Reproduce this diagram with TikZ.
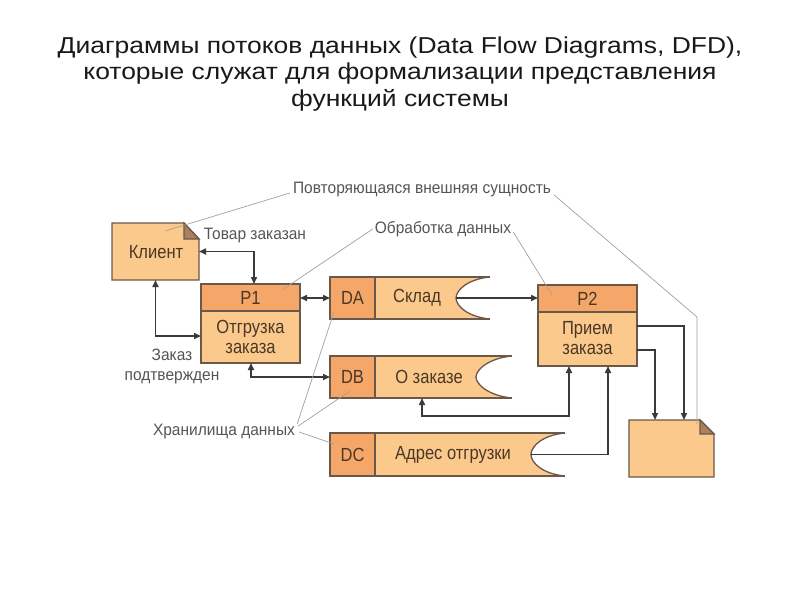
\documentclass[tikz,border=0pt]{standalone}
\usepackage{fontspec}
\setmainfont{Liberation Sans}
\newfontfamily\narrowfont[FakeStretch=0.94]{Liberation Sans}
\newfontfamily\boxfont[FakeStretch=0.87]{Liberation Sans}
\newfontfamily\widefont[FakeStretch=1.15]{Liberation Sans}
\usetikzlibrary{arrows.meta}
\definecolor{body}{HTML}{FCC98C}
\definecolor{hdr}{HTML}{F5A76A}
\definecolor{edge}{HTML}{6B5848}
\definecolor{foldc}{HTML}{A98060}
\definecolor{ink}{HTML}{3A3A3A}
\definecolor{notec}{HTML}{A0A0A0}
\definecolor{labelc}{HTML}{555555}
\definecolor{boxink}{HTML}{4A3826}
\begin{document}
\begin{tikzpicture}[x=1pt,y=-1pt,
  shapebox/.style={draw=none,inner sep=0pt,outer sep=0pt},
  boxline/.style={draw=edge,line width=1.3pt},
  flow/.style={draw=ink,line width=1.6pt},
  tip/.tip={Triangle[length=7pt,width=6pt]},
  note/.style={draw=notec,line width=0.7pt},
  lbl/.style={text=labelc,font=\narrowfont\fontsize{16.5}{20}\selectfont,inner sep=0pt,align=center},
  boxtxt/.style={text=boxink,font=\boxfont\fontsize{19}{20.5}\selectfont,inner sep=0pt,align=center},
  titletxt/.style={text=black!90,font=\widefont\fontsize{23}{26.5}\selectfont,inner sep=0pt,align=center}
]
\path[use as bounding box] (0,0) rectangle (800,600);

% title
\node[titletxt] (title) at (400,74) {Диаграммы потоков данных (Data Flow Diagrams, DFD),\\которые служат для формализации представления\\функций системы};

% shape anchors
\node[shapebox,minimum width=87pt,minimum height=57pt] (client) at (155.5,251.5) {};
\node[shapebox,minimum width=99pt,minimum height=79pt] (p1) at (250.5,323.5) {};
\node[shapebox,minimum width=99pt,minimum height=81pt] (p2) at (587.5,325.5) {};
\node[shapebox,minimum width=160pt,minimum height=42pt] (da) at (410,298) {};
\node[shapebox,minimum width=182pt,minimum height=42pt] (db) at (421,377) {};
\node[shapebox,minimum width=235pt,minimum height=43pt] (dc) at (447.5,454.5) {};
\node[shapebox,minimum width=85pt,minimum height=57pt] (doc) at (671.5,448.5) {};
\coordinate (danotch) at (456,298);
\coordinate (dcnotch) at (531,454.5);

% client
\filldraw[boxline,fill=body] (112,223) -- (184,223) -- (199,239) -- (199,280) -- (112,280) -- cycle;
\filldraw[boxline,fill=foldc] (184,223) -- (184,239) -- (199,239) -- cycle;

% doc
\filldraw[boxline,fill=body] (629,420) -- (700,420) -- (714,434) -- (714,477) -- (629,477) -- cycle;
\filldraw[boxline,fill=foldc] (700,420) -- (700,434) -- (714,434) -- cycle;

% processes
\filldraw[boxline,fill=body] (p1.north west) rectangle (p1.south east);
\filldraw[boxline,fill=hdr] (p1.north west) rectangle (p1.east |- 0,311);
\filldraw[boxline,fill=body] (p2.north west) rectangle (p2.south east);
\filldraw[boxline,fill=hdr] (p2.north west) rectangle (p2.east |- 0,312);

% stores
\fill[body] (330,277) -- (490,277) .. controls (468,279) and (456,290) .. (456,298) .. controls (456,306) and (468,317) .. (490,319) -- (330,319) -- cycle;
\fill[hdr] (330,277) rectangle (375,319);
\draw[boxline] (490,277) -- (330,277) -- (330,319) -- (490,319);
\draw[boxline] (490,277) .. controls (468,279) and (456,290) .. (456,298) .. controls (456,306) and (468,317) .. (490,319);
\draw[boxline] (375,277) -- (375,319);

\fill[body] (330,356) -- (512,356) .. controls (490,358) and (476,369) .. (476,377) .. controls (476,385) and (490,396) .. (512,398) -- (330,398) -- cycle;
\fill[hdr] (330,356) rectangle (375,398);
\draw[boxline] (512,356) -- (330,356) -- (330,398) -- (512,398);
\draw[boxline] (512,356) .. controls (490,358) and (476,369) .. (476,377) .. controls (476,385) and (490,396) .. (512,398);
\draw[boxline] (375,356) -- (375,398);

\fill[body] (330,433) -- (565,433) .. controls (543,435) and (531,446) .. (531,454.5) .. controls (531,463) and (543,474) .. (565,476) -- (330,476) -- cycle;
\fill[hdr] (330,433) rectangle (375,476);
\draw[boxline] (565,433) -- (330,433) -- (330,476) -- (565,476);
\draw[boxline] (565,433) .. controls (543,435) and (531,446) .. (531,454.5) .. controls (531,463) and (543,474) .. (565,476);
\draw[boxline] (375,433) -- (375,476);

% box texts
\node[boxtxt] (clientt) at (156,252) {Клиент};
\node[boxtxt] (p1h) at (250.5,298) {P1};
\node[boxtxt] (p1b) at (250.5,337) {Отгрузка\\заказа};
\node[boxtxt] (p2h) at (587.5,299) {P2};
\node[boxtxt] (p2b) at (587.5,338) {Прием\\заказа};
\node[boxtxt] (dah) at (352.5,298) {DA};
\node[boxtxt] (dab) at (417,298) {Склад};
\node[boxtxt] (dbh) at (352.5,377) {DB};
\node[boxtxt] (dbb) at (429,377) {О заказе};
\node[boxtxt] (dch) at (352.5,454.5) {DC};
\node[boxtxt] (dcb) at (453,454.5) {Адрес отгрузки};

% flows
\draw[flow,tip-tip] (client.east) -| (p1.north -| 254,0);
\draw[flow,tip-tip] (client.south) |- (p1.west |- 0,336);
\draw[flow,tip-tip] (p1.south -| 251,0) |- (db.west);
\draw[flow,tip-tip] (p1.east |- da.west) -- (da.west);
\draw[flow,-tip] (danotch) -- (p2.west |- danotch);
\draw[flow,tip-tip] (db.south -| 422,0) |- (569,416) -- (p2.south -| 569,0);
\draw[flow,-tip] (dcnotch) -| (p2.south -| 608,0);
\draw[flow,-tip] (p2.east |- 0,326) -| (doc.north -| 684,0);
\draw[flow,-tip] (p2.east |- 0,350) -| (doc.north -| 655,0);

% labels
\node[lbl] (rep) at (422,190) {Повторяющаяся внешняя сущность};
\node[lbl] (proc) at (443,229) {Обработка данных};
\node[lbl] (stor) at (224,432) {Хранилища данных};
\node[lbl] (ordered) at (255,236) {Товар заказан};
\node[lbl] (confirmed) at (172,366) {Заказ\\подтвержден};

% annotation lines
\draw[note] ([xshift=-3pt,yshift=-3pt]rep.west) -- (165,231);
\draw[note] ([xshift=3pt,yshift=-5pt]rep.east) -- (697,317) -- (697,424);
\draw[note] ([xshift=-2pt]proc.west) -- (282,290);
\draw[note] ([xshift=2pt,yshift=-3pt]proc.east) -- (552,295);
\draw[note] ([xshift=2pt,yshift=8pt]stor.east) -- (334,312);
\draw[note] ([xshift=3pt,yshift=6pt]stor.east) -- (350,391);
\draw[note] ([xshift=4pt]stor.east) -- (334,444);
\end{tikzpicture}
\end{document}
